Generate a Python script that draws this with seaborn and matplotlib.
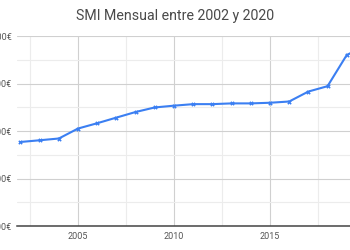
import matplotlib
matplotlib.use("Agg")
import matplotlib.pyplot as plt
import seaborn as sns
import pandas as pd
from matplotlib.ticker import MultipleLocator, FixedLocator

years = [2002, 2003, 2004, 2005, 2006, 2007, 2008, 2009, 2010, 2011,
         2012, 2013, 2014, 2015, 2016, 2017, 2018, 2019, 2020]
smi = [442.2, 451.2, 460.5, 513.0, 540.9, 570.6, 600.0, 624.0, 633.3, 641.4,
       641.4, 645.3, 645.3, 648.6, 655.2, 707.6, 735.9, 900.0, 950.0]
y_ticks = [0, 250, 500, 750, 1000]
y_labels = ["0,00€", "250,00€", "500,00€", "750,00€", "1.000,00€"]
x_ticks = [2005, 2010, 2015, 2020]
x_labels = ["2005", "2010", "2015", "2020"]
title = "SMI Mensual entre 2002 y 2020"

df = pd.DataFrame({"year": years, "smi": smi})

sns.set_theme(style="white")
plt.rcParams["font.family"] = ["Roboto", "DejaVu Sans"]

fig = plt.figure(figsize=(3.5, 2.5), dpi=100)
ax = fig.add_axes([17/350, 24/250, 333/350, 190/250])

sns.lineplot(data=df, x="year", y="smi", ax=ax, color="#3b7ff2", linewidth=1.5,
             marker="X", markersize=3.2, markeredgewidth=0, zorder=3)

ax.set_xlim(2001.82, 2019.17)
ax.set_ylim(0, 1000)

ax.yaxis.set_major_locator(FixedLocator(y_ticks))
ax.set_yticklabels(y_labels)
ax.yaxis.set_minor_locator(MultipleLocator(125))
ax.xaxis.set_major_locator(FixedLocator(x_ticks))
ax.set_xticklabels(x_labels)
ax.xaxis.set_minor_locator(MultipleLocator(2.5))

ax.grid(which="major", color="#d0d0d0", linewidth=0.8)
ax.grid(which="minor", color="#ececec", linewidth=0.8)
ax.set_axisbelow(True)

for s in ["top", "right", "left"]:
    ax.spines[s].set_visible(False)
ax.spines["bottom"].set_color("#444444")
ax.spines["bottom"].set_linewidth(1.1)

ax.tick_params(axis="both", which="both", length=0, labelsize=6.5, labelcolor="#555555")
ax.tick_params(axis="y", pad=3.5)
ax.tick_params(axis="x", pad=4)
ax.set_xlabel("")
ax.set_ylabel("")

fig.text(0.5, 1 - 16/250, title, ha="center", va="center", fontsize=10.2, color="#4a4a4a")

fig.savefig("out.png", dpi=100)
